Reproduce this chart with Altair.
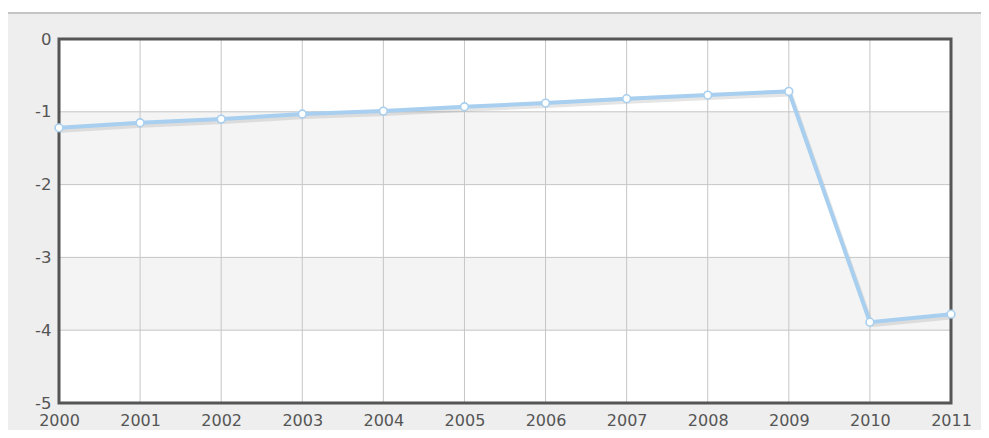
import altair as alt
import pandas as pd

years = [2000, 2001, 2002, 2003, 2004, 2005, 2006, 2007, 2008, 2009, 2010, 2011]
values = [-1.22, -1.15, -1.10, -1.03, -0.99, -0.93, -0.88, -0.82, -0.77, -0.72, -3.89, -3.78]
y_ticks = [0, -1, -2, -3, -4, -5]
band_top = [0, -1, -2, -3, -4]
band_bottom = [-1, -2, -3, -4, -5]
band_fill = ["#ffffff", "#f4f4f4", "#ffffff", "#f4f4f4", "#ffffff"]

W, H = 892, 364
PAD = {"left": 51, "top": 31, "right": 30, "bottom": 27}

df = pd.DataFrame({"year": years, "value": values})
bands = pd.DataFrame({"top": band_top, "bottom": band_bottom, "fill": band_fill})
ydf = pd.DataFrame({"v": y_ticks})
xdf = pd.DataFrame({"year": years})

xscale = alt.Scale(domain=[2000, 2011], nice=False, zero=False)
yscale = alt.Scale(domain=[-5, 0], nice=False)
xaxis = alt.Axis(values=years, labelExpr="'' + datum.value", title=None, grid=False,
                 ticks=False, domain=False, labelPadding=9, zindex=2,
                 labelFlush=False, labelOverlap=False, labelFontSize=16)
yaxis = alt.Axis(values=y_ticks, labelExpr="'' + datum.value", title=None, grid=False,
                 ticks=False, domain=False, labelPadding=8, zindex=2,
                 labelOverlap=False)

one = pd.DataFrame({"a": [0]})

topstrip = alt.Chart(one).mark_rect(clip=False, fill="#ffffff").encode(
    x=alt.value(-PAD["left"]), x2=alt.value(W + PAD["right"]),
    y=alt.value(-PAD["top"]), y2=alt.value(-26),
)

topline = alt.Chart(one).mark_rule(
    clip=False, color="#c4c4c4", strokeWidth=2
).encode(
    x=alt.value(-PAD["left"]), x2=alt.value(W + PAD["right"]),
    y=alt.value(-26),
)

band_layer = alt.Chart(bands).mark_rect().encode(
    y=alt.Y("top:Q", scale=yscale, axis=yaxis),
    y2="bottom:Q",
    x=alt.value(0), x2=alt.value(W),
    fill=alt.Fill("fill:N", scale=None),
)

hgrid = alt.Chart(ydf).mark_rule(color="#c6c6c6", strokeWidth=1).encode(
    y=alt.Y("v:Q", scale=yscale, axis=yaxis),
    x=alt.value(0), x2=alt.value(W),
)

vgrid = alt.Chart(xdf).mark_rule(color="#c6c6c6", strokeWidth=1).encode(
    x=alt.X("year:Q", scale=xscale, axis=xaxis),
    y=alt.value(0), y2=alt.value(H),
)

border = alt.Chart(one).mark_rect(
    fill="transparent", stroke="#555555", strokeWidth=3, clip=False
).encode(
    x=alt.value(0), x2=alt.value(W), y=alt.value(0), y2=alt.value(H),
)

shadow = alt.Chart(df).mark_line(
    color="#8a8a8a", opacity=0.22, strokeWidth=4, xOffset=2, yOffset=3, clip=False
).encode(
    x=alt.X("year:Q", scale=xscale, axis=xaxis),
    y=alt.Y("value:Q", scale=yscale, axis=yaxis),
)

line = alt.Chart(df).mark_line(color="#a8cfef", strokeWidth=4, clip=False).encode(
    x=alt.X("year:Q", scale=xscale, axis=xaxis),
    y=alt.Y("value:Q", scale=yscale, axis=yaxis),
)

points = alt.Chart(df).mark_point(
    filled=True, fill="#ffffff", stroke="#a8cfef", strokeWidth=1.6,
    size=60, opacity=1, clip=False
).encode(
    x=alt.X("year:Q", scale=xscale, axis=xaxis),
    y=alt.Y("value:Q", scale=yscale, axis=yaxis),
)

chart = alt.layer(topstrip, topline, band_layer, hgrid, vgrid, border, shadow, line, points).properties(
    width=W, height=H,
    autosize=alt.AutoSizeParams(type="none"),
    padding=PAD,
    background="#eeeeee",
).configure_view(
    stroke=None
).configure_axis(
    labelFont="DejaVu Sans", labelFontSize=16.5, labelColor="#555555",
)

chart.save("out.html", embed_options={"renderer": "svg", "actions": False})
